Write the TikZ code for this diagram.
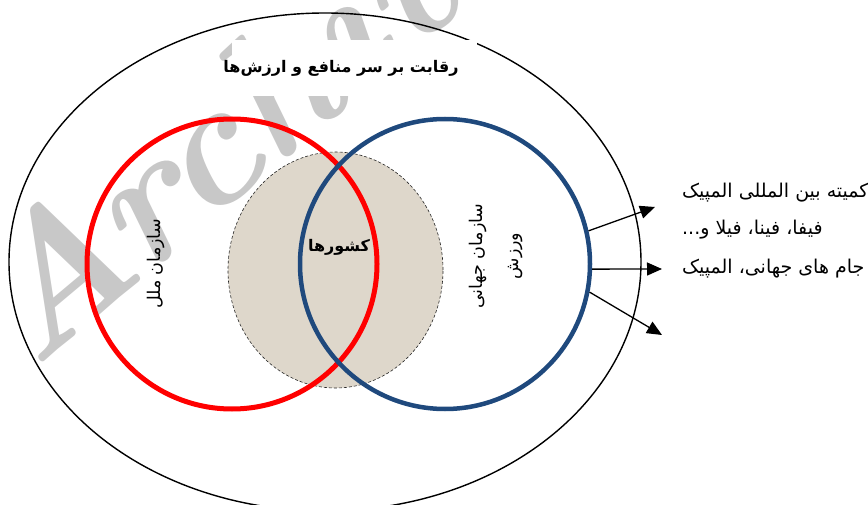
\documentclass[tikz,border=0pt]{standalone}
\usepackage{fontspec}
\usetikzlibrary{shapes.geometric,arrows.meta}
\TeXXeTstate=1
\newfontfamily\fa[Script=Arabic]{DejaVu Sans}
\definecolor{sportblue}{RGB}{31,73,125}
\definecolor{landfill}{RGB}{222,215,203}
\definecolor{wmgray}{RGB}{200,200,200}
\tikzset{
  fatext/.style={inner sep=0pt, font=\fa\fontsize{17.5}{20}\selectfont},
  fabold/.style={inner sep=0pt, font=\fa\bfseries\fontsize{16}{19}\selectfont},
  sidetext/.style={inner sep=0pt, anchor=west, font=\fa\fontsize{19}{22}\selectfont},
  ring/.style={circle, inner sep=0pt, minimum size=290pt},
  outarrow/.style={line width=1.3pt, -{Triangle[length=15pt,width=13pt]}}
}
\begin{document}
\begin{tikzpicture}[x=1pt,y=-1pt]
\useasboundingbox (0,0) rectangle (868,505);
\clip (0,0) rectangle (868,505);
% watermark
\node[rotate=40, anchor=base west, text=wmgray, inner sep=0pt,
      font=\fontsize{178}{178}\selectfont\bfseries\itshape] (wm) at (32,372) {Archive};
% outer ellipse
\node[draw, ellipse, line width=1.4pt, inner sep=0pt,
      minimum width=632pt, minimum height=498pt] (outer) at (325,262) {};
\fill[white] (232,40) rectangle (477,96);
\node[fabold] (title) at (341,68) {\beginR رقابت بر سر منافع و ارزش‌ها\endR};
% countries
\node[ellipse, fill=landfill, draw=black!85, line width=0.6pt, dash pattern=on 3pt off 2pt,
      inner sep=0pt, minimum width=215pt, minimum height=236pt] (land) at (335.5,270) {};
% circles
\node[ring, draw=red, line width=5pt] (un) at (232,264) {};
\node[ring, draw=sportblue, line width=4.5pt] (sport) at (445,264) {};
% labels
\node[fabold] (countries) at (339,247) {\beginR کشورها\endR};
\node[fatext, rotate=90] (unlabel) at (156,264) {\beginR سازمان ملل\endR};
\node[inner sep=0pt, rotate=90, align=center, font=\fa\fontsize{17.5}{36}\selectfont]
      (sportlabel) at (496,256) {\beginR سازمان جهانی\endR\\\beginR ورزش\endR};
% arrows
\coordinate (tip1) at (655,207);
\coordinate (tip2) at (662,269);
\coordinate (tip3) at (662,335);
\draw[outarrow] (sport.13.6) -- (tip1);
\draw[outarrow] (sport.-2) -- (tip2);
\draw[outarrow] (sport.-11.5) -- (tip3);
% right texts
\node[sidetext] (ioc) at (682,193) {\beginR کمیته بین المللی المپیک\endR};
\node[sidetext] (fifa) at (682,230) {\beginR فیفا، فینا، فیلا و...\endR};
\node[sidetext] (cups) at (682,269) {\beginR جام های جهانی، المپیک\endR};
\end{tikzpicture}
\end{document}
